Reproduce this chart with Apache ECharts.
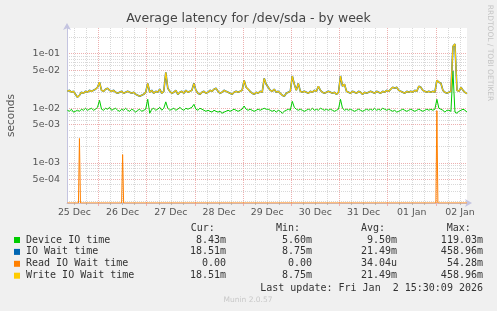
<!DOCTYPE html>
<html><head><meta charset="utf-8">
<script src="https://cdn.jsdelivr.net/npm/echarts@6/dist/echarts.min.js"></script>
<style>html,body{margin:0;padding:0;background:#F0F0F0;}#c{width:497px;height:311px;}</style>
</head><body><div id="c"></div>
<script>
const titleText = 'Average latency for /dev/sda - by week';
const yAxisName = 'seconds';
const sideText = 'RRDTOOL / TOBI OETIKER';
const footerText = 'Munin 2.0.57';
const lastUpdate = 'Last update: Fri Jan  2 15:30:09 2026';

const viewStart = '2025-12-25 08:18';
const viewEnd = '2026-01-02 15:30';
const sampleStart = '2025-12-25 08:30'; // hourly samples

const deviceIO = [
0.0092,0.0088,0.0096,0.0085,0.0088,0.0092,0.0088,0.0096,0.0092,0.0100,
0.0092,0.0096,0.0100,0.0092,0.0096,0.0104,0.0140,0.0096,0.0092,0.0100,
0.0096,0.0104,0.0092,0.0096,0.0100,0.0092,0.0088,0.0096,0.0092,0.0100,
0.0092,0.0088,0.0096,0.0092,0.0085,0.0092,0.0096,0.0088,0.0092,0.0096,
0.0146,0.0081,0.0096,0.0100,0.0092,0.0096,0.0104,0.0092,0.0100,0.0131,
0.0100,0.0092,0.0096,0.0100,0.0092,0.0096,0.0104,0.0096,0.0092,0.0100,
0.0096,0.0100,0.0104,0.0118,0.0096,0.0092,0.0100,0.0096,0.0092,0.0088,
0.0092,0.0088,0.0085,0.0092,0.0088,0.0085,0.0088,0.0081,0.0085,0.0088,
0.0092,0.0088,0.0092,0.0096,0.0092,0.0088,0.0092,0.0096,0.0110,0.0096,
0.0092,0.0096,0.0092,0.0088,0.0092,0.0096,0.0092,0.0096,0.0100,0.0096,
0.0096,0.0092,0.0088,0.0092,0.0085,0.0092,0.0088,0.0081,0.0088,0.0092,
0.0096,0.0092,0.0134,0.0104,0.0096,0.0092,0.0096,0.0092,0.0088,0.0092,
0.0096,0.0092,0.0100,0.0092,0.0096,0.0092,0.0100,0.0096,0.0092,0.0096,
0.0092,0.0096,0.0092,0.0088,0.0092,0.0096,0.0146,0.0100,0.0092,0.0096,
0.0092,0.0096,0.0092,0.0088,0.0092,0.0096,0.0092,0.0088,0.0092,0.0096,
0.0092,0.0096,0.0092,0.0100,0.0092,0.0096,0.0092,0.0100,0.0096,0.0092,
0.0096,0.0092,0.0088,0.0092,0.0085,0.0088,0.0092,0.0096,0.0092,0.0088,
0.0092,0.0096,0.0092,0.0088,0.0092,0.0096,0.0092,0.0088,0.0092,0.0096,
0.0092,0.0096,0.0092,0.0096,0.0146,0.0100,0.0096,0.0092,0.0085,0.0092,
0.0092,0.0088,0.0480,0.0085,0.0081,0.0088,0.0092,0.0096,0.0092,0.0085
];
const writeWait = [
0.0204,0.0213,0.0196,0.0204,0.0180,0.0159,0.0173,0.0196,0.0188,0.0204,
0.0196,0.0213,0.0204,0.0213,0.0223,0.0242,0.0299,0.0213,0.0204,0.0223,
0.0232,0.0213,0.0204,0.0213,0.0196,0.0188,0.0196,0.0204,0.0188,0.0196,
0.0204,0.0196,0.0188,0.0196,0.0180,0.0173,0.0166,0.0173,0.0180,0.0196,
0.0286,0.0196,0.0213,0.0188,0.0204,0.0196,0.0223,0.0188,0.0204,0.0455,
0.0232,0.0204,0.0188,0.0196,0.0213,0.0180,0.0196,0.0204,0.0188,0.0213,
0.0196,0.0204,0.0213,0.0286,0.0213,0.0188,0.0180,0.0196,0.0204,0.0188,
0.0196,0.0213,0.0204,0.0223,0.0232,0.0204,0.0188,0.0196,0.0213,0.0204,
0.0196,0.0188,0.0180,0.0196,0.0204,0.0196,0.0204,0.0213,0.0325,0.0242,
0.0223,0.0204,0.0188,0.0180,0.0196,0.0188,0.0204,0.0196,0.0353,0.0275,
0.0242,0.0213,0.0204,0.0223,0.0196,0.0204,0.0188,0.0173,0.0166,0.0188,
0.0196,0.0204,0.0389,0.0275,0.0213,0.0286,0.0204,0.0196,0.0204,0.0196,
0.0188,0.0204,0.0196,0.0213,0.0204,0.0253,0.0213,0.0196,0.0188,0.0196,
0.0204,0.0196,0.0188,0.0196,0.0180,0.0196,0.0389,0.0253,0.0275,0.0204,
0.0196,0.0188,0.0204,0.0196,0.0188,0.0204,0.0196,0.0180,0.0196,0.0188,
0.0196,0.0204,0.0196,0.0188,0.0204,0.0196,0.0188,0.0204,0.0196,0.0213,
0.0204,0.0223,0.0242,0.0232,0.0242,0.0213,0.0204,0.0196,0.0188,0.0204,
0.0196,0.0204,0.0196,0.0213,0.0204,0.0253,0.0242,0.0213,0.0204,0.0196,
0.0204,0.0196,0.0204,0.0196,0.0325,0.0299,0.0286,0.0213,0.0196,0.0188,
0.0196,0.0204,0.1350,0.1500,0.0213,0.0204,0.0242,0.0213,0.0196,0.0185
];
const ioWait = writeWait.slice(); // IO wait equals write wait (reads ~0)

const readTimes = ['2025-12-25 08:30','2025-12-25 14:00','2025-12-25 14:30','2025-12-25 15:00',
  '2025-12-26 11:30','2025-12-26 12:00','2025-12-26 12:30',
  '2026-01-02 00:00','2026-01-02 00:30','2026-01-02 01:00','2026-01-02 15:30'];
const readValues = [0, 0, 0.0028, 0, 0, 0.00142, 0, 0, 0.0090, 0, 0];

const xTickLabels = ['25 Dec','26 Dec','27 Dec','28 Dec','29 Dec','30 Dec','31 Dec','01 Jan','02 Jan'];
const yMin = 1.85e-4, yMax = 0.294;
const yMajorValues = [1e-1, 5e-2, 1e-2, 5e-3, 1e-3, 5e-4];
const yMajorLabels = ['1e-01','5e-02','1e-02','5e-03','1e-03','5e-04'];
const yMinorValues = [2e-4,3e-4,4e-4,6e-4,7e-4,8e-4,9e-4,2e-3,3e-3,4e-3,6e-3,7e-3,8e-3,9e-3,
  2e-2,3e-2,4e-2,6e-2,7e-2,8e-2,9e-2,2e-1];

const seriesNames = ['Device IO time','IO Wait time','Read IO Wait time','Write IO Wait time'];
const seriesColors = ['#00CC00','#0066B3','#FF8000','#FFCC00'];
const curLabels = ['8.43m','18.51m','0.00','18.51m'];
const minLabels = ['5.60m','8.75m','0.00','8.75m'];
const avgLabels = ['9.50m','21.49m','34.04u','21.49m'];
const maxLabels = ['119.03m','458.96m','54.28m','458.96m'];

function parseT(s){
  const m = s.match(/(\d+)-(\d+)-(\d+) (\d+):(\d+)/);
  return Date.UTC(+m[1], +m[2]-1, +m[3], +m[4], +m[5]);
}
const H = 3600000, D = 24*H;
const T0 = parseT(viewStart), T1 = parseT(viewEnd), S0 = parseT(sampleStart);
const toPairs = arr => arr.map((v,i)=>[S0 + i*H, v]);
const readPairs = readTimes.map((t,i)=>[parseT(t), readValues[i] > 0 ? readValues[i] : yMin]); // zero clamped to floor as rrdtool does

const firstNoon = parseT('2025-12-25 12:00');
const firstMidnight = parseT('2025-12-26 00:00');
const labelTimes = xTickLabels.map((_,i)=>firstNoon + i*D);
const dayBounds = [], sixHours = [];
for (let t = firstNoon; t <= T1; t += 6*H) {
  if (((t - firstMidnight) % D + D) % D === 0) dayBounds.push(t); else sixHours.push(t);
}

const FONT = 'DejaVu Sans';
const L = Math.log10;

const chart = echarts.init(document.getElementById('c'), null, {renderer:'canvas'});
const g = [];
g.push({type:'text', x:248.5, y:19, style:{text:titleText, font:'12.5px "DejaVu Sans"', fill:'#444', align:'center', verticalAlign:'middle'}});
g.push({type:'text', x:11, y:115.5, rotation:Math.PI/2, style:{text:yAxisName, font:'10.5px "DejaVu Sans"', fill:'#555', align:'center', verticalAlign:'middle'}});
g.push({type:'text', x:490, y:53, rotation:-Math.PI/2, style:{text:sideText, font:'7.5px "DejaVu Sans"', fill:'#C4C4C4', align:'center', verticalAlign:'middle'}});
const hdrY = 228;
[['Cur:',190.7],['Min:',276],['Avg:',361],['Max:',446.7]].forEach(([t,x])=>{
  g.push({type:'text', x, y:hdrY, style:{text:t, font:'10px "DejaVu Sans Mono"', fill:'#333', align:'left', verticalAlign:'middle'}});
});
const colRight = [226, 312, 397, 483];
seriesNames.forEach((n,k)=>{
  const y = 240 + k*11.9;
  g.push({type:'rect', shape:{x:14, y:y-3, width:6, height:6}, style:{fill:seriesColors[k]}});
  g.push({type:'text', x:26, y, style:{text:n, font:'10px "DejaVu Sans Mono"', fill:'#333', align:'left', verticalAlign:'middle'}});
  [curLabels, minLabels, avgLabels, maxLabels].forEach((arr,c)=>{
    g.push({type:'text', x:colRight[c], y, style:{text:arr[k], font:'10px "DejaVu Sans Mono"', fill:'#333', align:'right', verticalAlign:'middle'}});
  });
});
g.push({type:'text', x:483, y:288, style:{text:lastUpdate, font:'10px "DejaVu Sans Mono"', fill:'#333', align:'right', verticalAlign:'middle'}});
g.push({type:'text', x:248, y:300, style:{text:footerText, font:'7.5px "DejaVu Sans"', fill:'#C8C8C8', align:'center', verticalAlign:'middle'}});

const axisCol = '#C4C4E0', minorCol = '#D8D8D8', majorCol = '#EDB0B0';

const option = {
  animation:false,
  backgroundColor:'#F0F0F0',
  grid:{left:67, top:28, width:400, height:175, show:true, backgroundColor:'#FFFFFF', borderWidth:0},
  xAxis:[
    {type:'value', min:T0, max:T1, position:'bottom',
     axisLine:{show:true, lineStyle:{color:axisCol, width:1}, symbol:['none','arrow'], symbolSize:[6,7], symbolOffset:[0,5]},
     axisTick:{show:true, customValues:sixHours, length:2, lineStyle:{color:'#BBBBBB'}},
     axisLabel:{show:true, customValues:labelTimes, margin:5, color:'#555', fontSize:9.4, fontFamily:FONT,
       formatter:(v)=>{ const i = labelTimes.findIndex(t=>Math.abs(t-v)<60000); return i>=0 ? xTickLabels[i] : ''; }},
     splitLine:{show:true, lineStyle:{color:minorCol, type:[1,1], width:1}}},
    {type:'value', min:T0, max:T1, position:'bottom',
     axisLine:{show:false}, axisLabel:{show:false},
     axisTick:{show:true, customValues:dayBounds, length:3, lineStyle:{color:majorCol}},
     splitLine:{show:true, lineStyle:{color:majorCol, type:[1,1], width:1}}}
  ],
  yAxis:[
    {type:'log', logBase:10, min:yMin, max:yMax, position:'left',
     axisLine:{show:true, lineStyle:{color:axisCol, width:1}, symbol:['none','arrow'], symbolSize:[6,7], symbolOffset:[0,5]},
     axisTick:{show:false}, axisLabel:{show:false}, splitLine:{show:false}},
    {type:'value', min:L(yMin), max:L(yMax), position:'left', axisLine:{show:false}, axisLabel:{show:false},
     axisTick:{show:false, customValues:yMinorValues.map(L)},
     splitLine:{show:true, lineStyle:{color:minorCol, type:[1,1], width:1}}},
    {type:'value', min:L(yMin), max:L(yMax), position:'left', offset:0, axisLine:{show:false},
     axisTick:{show:false, customValues:yMajorValues.map(L)},
     axisLabel:{show:true, customValues:yMajorValues.map(L), margin:7, color:'#555', fontSize:9.5, fontFamily:FONT,
       formatter:(v)=>{ const i = yMajorValues.findIndex(x=>Math.abs(L(x)-v)<1e-6); return i>=0 ? yMajorLabels[i] : ''; }},
     splitLine:{show:true, lineStyle:{color:majorCol, type:[1,1], width:1}}}
  ],
  series:[
    {name:seriesNames[0], type:'line', xAxisIndex:0, yAxisIndex:0, data:toPairs(deviceIO), showSymbol:false, lineStyle:{width:1, color:seriesColors[0]}, itemStyle:{color:seriesColors[0]}, z:3},
    {name:seriesNames[1], type:'line', xAxisIndex:0, yAxisIndex:0, data:toPairs(ioWait), showSymbol:false, lineStyle:{width:1.6, color:seriesColors[1]}, itemStyle:{color:seriesColors[1]}, z:4},
    {name:seriesNames[2], type:'line', xAxisIndex:0, yAxisIndex:0, data:readPairs, showSymbol:false, lineStyle:{width:1, color:seriesColors[2]}, itemStyle:{color:seriesColors[2]}, z:5},
    {name:seriesNames[3], type:'line', xAxisIndex:0, yAxisIndex:0, data:toPairs(writeWait), showSymbol:false, lineStyle:{width:1.2, color:seriesColors[3]}, itemStyle:{color:seriesColors[3]}, z:6}
  ],
  graphic:g
};
chart.setOption(option);
</script></body></html>
